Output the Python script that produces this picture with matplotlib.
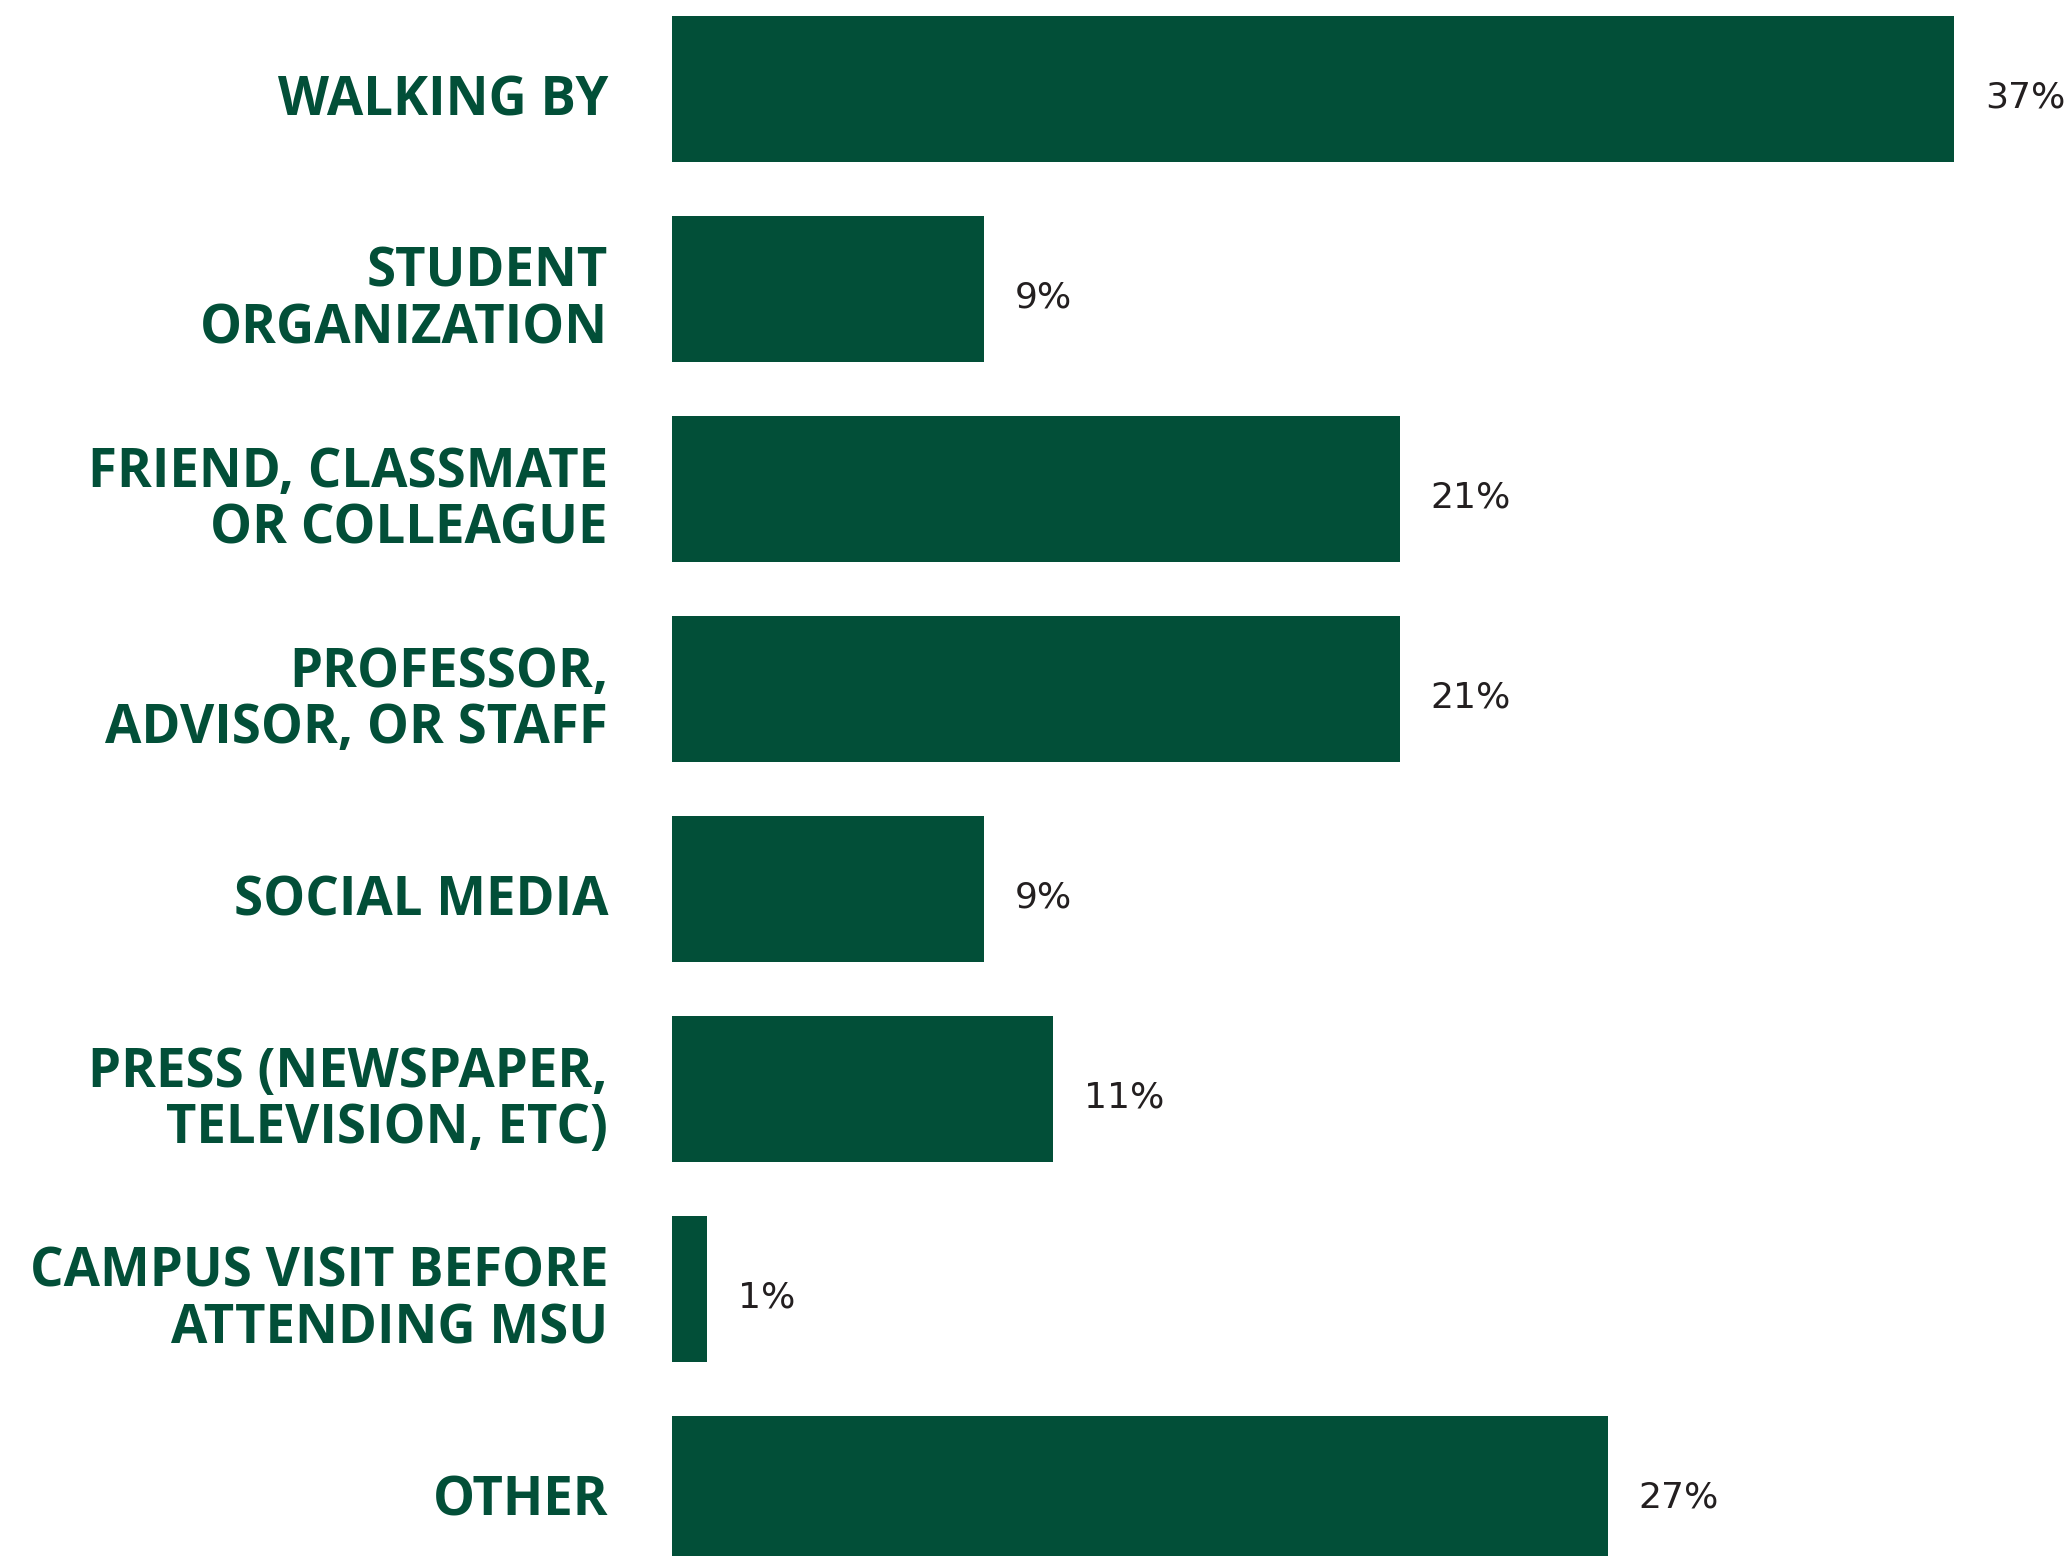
import matplotlib.pyplot as plt

labels = ['WALKING BY', 'STUDENT\nORGANIZATION', 'FRIEND, CLASSMATE\nOR COLLEAGUE',
          'PROFESSOR,\nADVISOR, OR STAFF', 'SOCIAL MEDIA', 'PRESS (NEWSPAPER,\nTELEVISION, ETC)',
          'CAMPUS VISIT BEFORE\nATTENDING MSU', 'OTHER']
values = [37, 9, 21, 21, 9, 11, 1, 27]

green = '#024f38'

fig = plt.figure(figsize=(20.69, 15.56), dpi=100)
ax = fig.add_axes([672 / 2069, 0, 1 - 672 / 2069, 1])

y = range(len(values))
ax.barh(y, values, height=0.733, color=green)

ax.set_xlim(0, 1397 / 34.65)
ax.set_ylim(7.335, -0.445)
ax.axis('off')

for i, v in enumerate(values):
    ax.annotate(f'{v}%', xy=(v, i), xytext=(31, -8), textcoords='offset pixels',
                va='center', ha='left', fontsize=26, color='#231f20')
    ax.annotate(labels[i], xy=(0, i), xytext=(-64, -12), textcoords='offset pixels',
                ha='right', va='center', multialignment='right', fontsize=38,
                family='Open Sans', fontweight='bold', color=green, linespacing=1.05)

fig.savefig('out.png', dpi=100)
